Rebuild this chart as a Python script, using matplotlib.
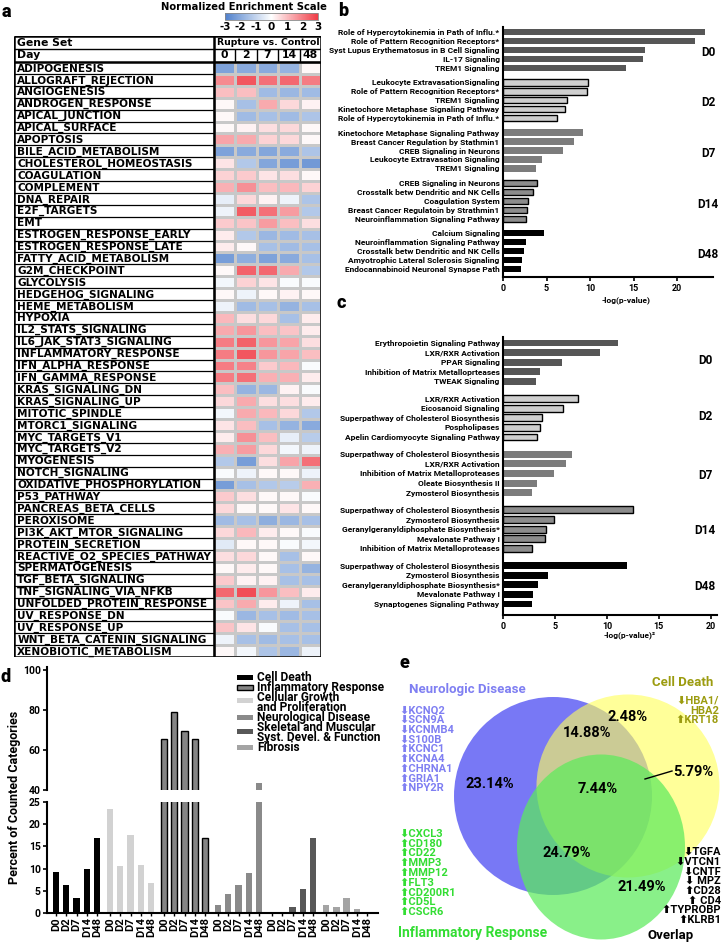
import numpy as np
import matplotlib
matplotlib.use('Agg')
import matplotlib.pyplot as plt
from matplotlib.colors import LinearSegmentedColormap
from matplotlib.patches import Rectangle, Ellipse

plt.rcParams['font.family'] = ['Roboto', 'DejaVu Sans']
plt.rcParams['font.weight'] = 'bold'
plt.rcParams['axes.unicode_minus'] = False
FA = ['DejaVu Sans']

# ---------------- data: panel a ----------------
gene_sets = ["ADIPOGENESIS", "ALLOGRAFT_REJECTION", "ANGIOGENESIS", "ANDROGEN_RESPONSE",
             "APICAL_JUNCTION", "APICAL_SURFACE", "APOPTOSIS", "BILE_ACID_METABOLISM",
             "CHOLESTEROL_HOMEOSTASIS", "COAGULATION", "COMPLEMENT", "DNA_REPAIR",
             "E2F_TARGETS", "EMT", "ESTROGEN_RESPONSE_EARLY", "ESTROGEN_RESPONSE_LATE",
             "FATTY_ACID_METABOLISM", "G2M_CHECKPOINT", "GLYCOLYSIS", "HEDGEHOG_SIGNALING",
             "HEME_METABOLISM", "HYPOXIA", "IL2_STATS_SIGNALING", "IL6_JAK_STAT3_SIGNALING",
             "INFLAMMATORY_RESPONSE", "IFN_ALPHA_RESPONSE", "IFN_GAMMA_RESPONSE",
             "KRAS_SIGNALING_DN", "KRAS_SIGNALING_UP", "MITOTIC_SPINDLE", "MTORC1_SIGNALING",
             "MYC_TARGETS_V1", "MYC_TARGETS_V2", "MYOGENESIS", "NOTCH_SIGNALING",
             "OXIDATIVE_PHOSPHORYLATION", "P53_PATHWAY", "PANCREAS_BETA_CELLS", "PEROXISOME",
             "PI3K_AKT_MTOR_SIGNALING", "PROTEIN_SECRETION", "REACTIVE_O2_SPECIES_PATHWAY",
             "SPERMATOGENESIS", "TGF_BETA_SIGNALING", "TNF_SIGNALING_VIA_NFKB",
             "UNFOLDED_PROTEIN_RESPONSE", "UV_RESPONSE_DN", "UV_RESPONSE_UP",
             "WNT_BETA_CATENIN_SIGNALING", "XENOBIOTIC_METABOLISM"]
days = ["0", "2", "7", "14", "48"]
nes = [
    [-2.2, -2.0, -2.0, -1.8, 0.1],
    [1.8, 2.6, 2.2, 2.3, 2.0],
    [1.0, 1.0, -1.6, -1.7, -1.6],
    [0.1, -1.5, 1.3, 0.6, 0.2],
    [0.1, -1.6, -1.5, -1.6, -1.4],
    [0.1, 0.2, 0.5, 0.6, 0.1],
    [1.4, 1.3, 0.7, 0.6, 0.1],
    [-2.2, -2.0, -2.1, -2.0, -1.4],
    [0.4, -1.3, -2.1, -2.3, -2.4],
    [0.7, 0.8, 0.4, 0.5, 0.1],
    [1.2, 1.7, 1.0, 1.1, 0.7],
    [-0.4, 0.6, 0.2, -0.3, -1.4],
    [-0.3, 2.5, 2.2, 1.5, -1.3],
    [0.8, 0.9, 1.5, 1.0, 0.5],
    [0.3, -1.3, -1.7, -1.6, -1.5],
    [0.3, 0.1, -1.5, -1.6, -1.5],
    [-2.3, -1.9, -2.2, -2.0, -1.5],
    [0.1, 2.4, 2.3, 1.3, -1.3],
    [-0.2, 0.7, 0.4, -0.1, -0.1],
    [0.1, -0.3, 0.1, 0.2, 0.1],
    [-0.3, -1.6, -1.5, -1.8, -1.5],
    [1.1, 0.5, 0.6, -1.5, 0.3],
    [1.3, 1.6, 1.0, 0.9, 0.3],
    [2.0, 2.4, 1.6, 1.4, 0.5],
    [2.0, 2.6, 1.6, 1.4, 1.0],
    [2.0, 1.9, 0.8, 1.1, -0.1],
    [2.0, 2.2, 1.2, 1.2, 0.3],
    [1.0, -1.8, -1.7, 0.2, -0.1],
    [0.6, 1.3, 0.5, 0.5, 0.3],
    [-0.2, 1.3, 1.1, 0.6, -1.3],
    [0.4, 1.0, -1.5, -1.8, -2.0],
    [0.3, 1.7, 1.0, -0.4, -1.2],
    [1.2, 1.5, 0.6, -0.2, -0.3],
    [-1.3, -2.3, 0.5, 1.4, 2.2],
    [-0.1, -0.3, 0.1, 0.1, -0.3],
    [-2.3, -1.5, -1.3, -1.2, 1.2],
    [0.8, 0.5, 0.1, 0.1, -0.1],
    [0.6, 0.1, 0.1, 0.4, 0.1],
    [-1.6, -1.5, -1.9, -1.7, -1.5],
    [0.6, 1.1, 0.3, 0.1, -0.1],
    [-0.5, 0.1, 0.1, -0.1, -0.2],
    [0.5, 0.6, 0.1, -1.5, 0.1],
    [0.1, 0.3, 0.1, -1.5, -1.8],
    [0.8, 0.2, 0.2, -1.5, -1.5],
    [2.3, 2.7, 1.6, 1.0, 0.3],
    [0.9, 1.3, 0.3, -0.3, -1.5],
    [-0.1, -1.7, -1.5, -1.6, -1.5],
    [0.9, 0.4, -0.1, -1.5, -1.5],
    [-0.3, -1.5, -1.6, -1.5, -1.5],
    [0.1, -0.2, -1.4, -1.7, -0.3],
]
nes_ticks = [-3, -2, -1, 0, 1, 2, 3]

# ---------------- data: panel b ----------------
day_groups = ["D0", "D2", "D7", "D14", "D48"]
b_labels = [
    ["Role of Hypercytokinemia in Path of Influ.*", "Role of Pattern Recognition Receptors*",
     "Syst Lupus Erythematosus in B Cell Signaling", "IL-17 Signaling", "TREM1 Signaling"],
    ["Leukocyte ExtravasationSignaling", "Role of Pattern Recognition Receptors*",
     "TREM1 Signaling", "Kinetochore Metaphase Signaling Pathway",
     "Role of Hypercytokinemia in Path of Influ.*"],
    ["Kinetochore Metaphase Signaling Pathway", "Breast Cancer Regulation by Stathmin1",
     "CREB Signaling in Neurons", "Leukocyte Extravasation Signaling", "TREM1 Signaling"],
    ["CREB Signaling in Neurons", "Crosstalk betw Dendritic and NK Cells", "Coagulation System",
     "Breast Cancer Regulatoin by Strathmin1", "Neuroinflammation Signaling Pathway"],
    ["Calcium Signaling", "Neuroinflammation Signaling Pathway",
     "Crosstalk betw Dendritic and NK Cells", "Amyotrophic Lateral Sclerosis Signaling",
     "Endocannabinoid Neuronal Synapse Path"],
]
b_values = [
    [23.2, 22.0, 16.3, 16.1, 14.1],
    [9.8, 9.6, 7.3, 7.1, 6.2],
    [9.2, 8.2, 6.9, 4.5, 3.8],
    [3.9, 3.4, 2.9, 2.8, 2.6],
    [4.7, 2.6, 2.4, 2.2, 2.1],
]

# ---------------- data: panel c ----------------
c_labels = [
    ["Erythropoietin Signaling Pathway", "LXR/RXR Activation", "PPAR Signaling",
     "Inhibition of Matrix Metalloprteases", "TWEAK Signaling"],
    ["LXR/RXR Activation", "Eicosanoid Signaling", "Superpathway of Cholesterol Biosynthesis",
     "Pospholipases", "Apelin Cardiomyocyte Signaling Pathway"],
    ["Superpathway of Cholesterol Biosynthesis", "LXR/RXR Activation",
     "Inhibition of Matrix Metalloproteases", "Oleate Biosynthesis II", "Zymosterol Biosynthesis"],
    ["Superpathway of Cholesterol Biosynthesis", "Zymosterol Biosynthesis",
     "Geranylgeranyldiphosphate Biosynthesis*", "Mevalonate Pathway I",
     "Inhibition of Matrix Metalloproteases"],
    ["Superpathway of Cholesterol Biosynthesis", "Zymosterol Biosynthesis",
     "Geranylgeranyldiphosphate Biosynthesis*", "Mevalonate Pathway I",
     "Synaptogenes Signaling Pathway"],
]
c_values = [
    [11.1, 9.3, 5.7, 3.6, 3.2],
    [7.2, 5.8, 3.8, 3.6, 3.3],
    [6.6, 6.1, 4.9, 3.3, 2.8],
    [12.5, 4.9, 4.1, 4.0, 2.8],
    [11.9, 4.3, 3.4, 2.9, 2.8],
]

# ---------------- data: panel d ----------------
d_days = ["D0", "D2", "D7", "D14", "D48"]
d_cell_death = [9.2, 6.2, 3.3, 9.9, 16.8]
d_growth = [23.4, 10.6, 17.5, 10.8, 6.8]
d_inflam = [65.5, 79.0, 69.5, 65.5, 16.8]
d_neuro = [1.7, 4.2, 6.3, 9.0, 43.5]
d_skeletal = [0.0, 0.0, 1.4, 5.5, 16.8]
d_fibrosis = [1.7, 1.4, 3.3, 1.0, 0.0]
d_series = [d_cell_death, d_growth, d_inflam, d_neuro, d_skeletal, d_fibrosis]
d_names = ["Cell Death", "Cellular Growth\nand Proliferation", "Inflammatory Response",
           "Neurological Disease", "Skeletal and Muscular\nSyst. Devel. & Function", "Fibrosis"]
d_legend_order = [0, 2, 1, 3, 4, 5]

# ---------------- data: panel e ----------------
venn_names = ["Neurologic Disease", "Cell Death", "Inflammatory Response", "Overlap"]
venn_pcts = ["23.14%", "2.48%", "14.88%", "7.44%", "24.79%", "21.49%", "5.79%"]
neuro_genes = ["KCNQ2", "SCN9A", "KCNMB4", "S100B", "KCNC1", "KCNA4", "CHRNA1", "GRIA1", "NPY2R"]
neuro_dir = [-1, -1, -1, -1, 1, 1, 1, 1, 1]
death_genes = ["HBA1/", "HBA2", "KRT18"]
death_dir = [-1, 0, 1]
inflam_genes = ["CXCL3", "CD180", "CD22", "MMP3", "MMP12", "FLT3", "CD200R1", "CD5L", "CSCR6"]
inflam_dir = [-1, 1, 1, 1, 1, 1, 1, 1, 1]
overlap_genes = ["TGFA", "VTCN1", "CNTF", " MPZ", "CD28", " CD4", "TYPROBP", "KLRB1"]
overlap_dir = [-1, -1, -1, -1, 1, 1, 1, 1]

# ================= figure =================
W, H = 723, 944
fig = plt.figure(figsize=(W / 100, H / 100), dpi=100)


def px_axes(l, t, r, b):
    return fig.add_axes([l / W, 1 - b / H, (r - l) / W, (b - t) / H])


def ftext(x, y, s, **kw):
    return fig.text(x / W, 1 - y / H, s, **kw)


# ---------------- panel a ----------------
cmap = LinearSegmentedColormap.from_list("nes", ["#4f80cc", "#ffffff", "#f03c46"])
axA = px_axes(14, 36, 321, 657)
ncol, nrow = len(days), len(gene_sets)
lab_w = 200 / (107 / ncol)
hdr = 26 / 11.9
axA.set_xlim(-lab_w, ncol)
axA.set_ylim(nrow, -hdr)
axA.axis('off')
mesh = axA.pcolormesh(np.arange(ncol + 1), np.arange(nrow + 1), np.array(nes), cmap=cmap,
                      vmin=-3, vmax=3, edgecolors='#c8c8c8', linewidth=0.8)
axA.hlines(np.arange(1, nrow), -lab_w, 0, color='k', lw=0.9)
axA.hlines([-hdr, 0, nrow], -lab_w, ncol, color='k', lw=1.8)
axA.hlines([-hdr / 2], -lab_w, ncol, color='k', lw=1.0)
axA.vlines([-lab_w, 0, ncol], -hdr, nrow, color='k', lw=1.8)
axA.vlines(np.arange(1, ncol), -hdr / 2, 0, color='k', lw=1.0)
for i, g in enumerate(gene_sets):
    axA.text(-lab_w + 0.15, i + 0.55, g, ha='left', va='center', fontsize=7.6,
             fontweight='bold', family=FA)
axA.text(-lab_w + 0.15, -hdr * 0.75, "Gene Set", ha='left', va='center', fontsize=7.8, family=FA)
axA.text(ncol / 2 + 0.05, -hdr * 0.75, "Rupture vs. Control", ha='center', va='center',
         fontsize=6.7, family=FA)
axA.text(-lab_w + 0.15, -hdr * 0.25, "Day", ha='left', va='center', fontsize=7.8, family=FA)
for j, d in enumerate(days):
    axA.text(j + 0.5, -hdr * 0.25, d, ha='center', va='center', fontsize=7.8, family=FA)

cax = px_axes(225, 13, 318, 20)
cb = fig.colorbar(mesh, cax=cax, orientation='horizontal', ticks=nes_ticks)
cb.ax.tick_params(length=0, labelsize=7.5, pad=1.5)
for t in cb.ax.get_xticklabels():
    t.set_fontweight('bold')
    t.set_family(FA)
cb.outline.set_linewidth(0.6)
cb.outline.set_edgecolor('#888888')
ftext(244, 7, "Normalized Enrichment Scale", ha='center', va='center', fontsize=7.2, family=FA)

# ---------------- panels b / c ----------------
bar_styles = [dict(color='#565656', edgecolor='none', lw=0),
              dict(color='#cfcfcf', edgecolor='k', lw=1.0),
              dict(color='#7c7c7c', edgecolor='none', lw=0),
              dict(color='#8c8c8c', edgecolor='k', lw=1.0),
              dict(color='#000000', edgecolor='none', lw=0)]


def bar_panel(rect, values, labels, gap, ylim, xlim, label_x, day_y, lfs):
    ax = px_axes(*rect)
    pos_all, lab_all = [], []
    for g, (vals, labs) in enumerate(zip(values, labels)):
        pos = [g * gap + i for i in range(len(vals))]
        st = bar_styles[g]
        ax.barh(pos, vals, height=0.72, color=st['color'], edgecolor=st['edgecolor'],
                linewidth=st['lw'])
        pos_all += pos
        lab_all += labs
    ax.set_ylim(*ylim)
    ax.set_xlim(*xlim)
    ax.set_yticks(pos_all)
    ax.set_yticklabels(lab_all, fontsize=lfs, fontweight='bold')
    ax.tick_params(axis='y', length=0, pad=2.5)
    ax.set_xticks([0, 5, 10, 15, 20])
    ax.tick_params(axis='x', length=3, width=1.2, labelsize=6.5, pad=2)
    for t in ax.get_xticklabels():
        t.set_fontweight('bold')
    for s in ['top', 'right']:
        ax.spines[s].set_visible(False)
    for s in ['left', 'bottom']:
        ax.spines[s].set_linewidth(1.5)
    for name, y in zip(day_groups, day_y):
        ftext(label_x, y, name, ha='center', va='center', fontsize=8.5)
    return ax


axB = bar_panel((503, 27, 713, 277), b_values, b_labels, 5.6, (27.29, -0.56), (0, 24.1),
                708, [53, 103, 153, 204, 254], 6.0)
ftext(626, 300, "-log(p-value)", ha='center', va='center', fontsize=6)
axC = bar_panel((503, 337, 717, 615), c_values, c_labels, 5.8, (28.35, -0.625), (0, 20.6),
                705, [361, 417, 475, 531, 587], 6.0)
ftext(630, 635, "-log(p-value)²", ha='center', va='center', fontsize=6)

# ---------------- panel d ----------------
d_colors = ['#000000', '#d2d2d2', '#858585', '#8a8a8a', '#585858', '#a4a4a4']
d_edges = ['none', 'none', 'k', 'none', 'none', 'none']
d_lw = [0, 0, 1.0, 0, 0, 0]
axDu = px_axes(47, 667, 378, 790)
axDl = px_axes(47, 802, 378, 913)
gap_d = 5.25
xt, xl = [], []
for ax in (axDu, axDl):
    for g, vals in enumerate(d_series):
        pos = [g * gap_d + i for i in range(len(vals))]
        ax.bar(pos, vals, width=0.62, color=d_colors[g], edgecolor=d_edges[g], linewidth=d_lw[g])
        if ax is axDl:
            xt += pos
            xl += d_days
    ax.set_xlim(-0.87, 31.3)
    for s in ['top', 'right']:
        ax.spines[s].set_visible(False)
    for s in ['left', 'bottom']:
        ax.spines[s].set_linewidth(1.5)
    ax.tick_params(axis='y', length=3, width=1.2, labelsize=7.5, pad=1.5)
axDu.set_ylim(40, 101.5)
axDu.set_yticks([40, 60, 80, 100])
axDu.spines['bottom'].set_visible(False)
axDu.set_xticks([])
axDl.set_ylim(0, 25)
axDl.set_yticks([0, 5, 10, 15, 20, 25])
axDl.set_xticks(xt)
axDl.set_xticklabels(xl, rotation=90, fontsize=8)
axDl.tick_params(axis='x', length=2, width=1.0, pad=1)
for ax in (axDu, axDl):
    for t in ax.get_yticklabels() + ax.get_xticklabels():
        t.set_fontweight('bold')
ftext(15, 797, "Percent of Counted Categories", rotation=90, ha='center', va='center', fontsize=9)

# legend: one multi-line text block, patches placed at each entry's first line
leg_top, leg_step = 677, 10.1
leg_lines = []
line_idx = 0
for idx in d_legend_order:
    py = leg_top + line_idx * leg_step
    if "\n" in d_names[idx]:
        py += leg_step * 0.35
    fig.patches.append(Rectangle((237 / W, 1 - (py + 2.5) / H), 16 / W, 5 / H,
                                 transform=fig.transFigure, facecolor=d_colors[idx],
                                 edgecolor=d_edges[idx] if d_edges[idx] != 'none' else d_colors[idx],
                                 linewidth=1.0 if d_lw[idx] else 0))
    parts = d_names[idx].split("\n")
    leg_lines += parts
    line_idx += len(parts)
n_leg = len(leg_lines)
ftext(257, leg_top + (n_leg - 1) * leg_step / 2, "\n".join(leg_lines), ha='left', va='center',
      fontsize=8.6, linespacing=0.70)

# ---------------- panel e ----------------
axE = px_axes(380, 640, 723, 944)
axE.set_xlim(380, 723)
axE.set_ylim(944, 640)
axE.axis('off')
axE.add_patch(Ellipse((553, 796), 198, 198, facecolor='#7878f5', lw=0))
axE.add_patch(Ellipse((628, 786), 183, 183, facecolor='#ffff5a', alpha=0.62, lw=0))
axE.add_patch(Ellipse((601, 847), 168, 185, facecolor='#5ceb5c', alpha=0.72, lw=0))

c_neuro, c_death, c_inf = '#7f7ff2', '#9c9c10', '#33dd33'
axE.text(409, 689, venn_names[0], color=c_neuro, fontsize=9.5, ha='left', va='center')
axE.text(652, 683, venn_names[1], color=c_death, fontsize=9.5, ha='left', va='center')
axE.text(398, 933, venn_names[2], color=c_inf, fontsize=10, ha='left', va='center')
axE.text(647, 935, venn_names[3], color='k', fontsize=9.5, ha='left', va='center')

pct_xy = [(490, 784), (628, 717), (587, 733), (598, 789), (567, 853), (642, 887)]
for (x, y), p in zip(pct_xy, venn_pcts[:6]):
    axE.text(x, y, p, ha='center', va='center', fontsize=10.5)
axE.text(673, 772, venn_pcts[6], ha='left', va='center', fontsize=10.5)
axE.plot([645, 672], [779, 771], color='k', lw=1.0)

arrow = {-1: "⬇", 1: "⬆", 0: ""}
GFS = 8.0
LS = 0.97


def gene_block(x, y_top, genes, dirs, color, ha, step=10.0):
    s = "\n".join(arrow[d] + g for g, d in zip(genes, dirs))
    n = len(genes)
    yc = y_top + (n - 1) * step / 2
    axE.text(x, yc, s, color=color, fontsize=GFS, ha=ha, va='center', linespacing=LS,
             multialignment=ha)


gene_block(399, 709, neuro_genes, neuro_dir, c_neuro, 'left', 10.1)
gene_block(399, 833, inflam_genes, inflam_dir, c_inf, 'left')
gene_block(719, 700.5, death_genes, death_dir, c_death, 'right')
gene_block(721, 851, overlap_genes, overlap_dir, 'k', 'right')

# panel letters
for s, x, y in [("a", 6, 12), ("b", 343, 11), ("c", 341, 303), ("d", 6, 677), ("e", 404, 663)]:
    ftext(x, y, s, ha='center', va='center', fontsize=13, fontweight='heavy')

fig.savefig("out.png", dpi=100)
